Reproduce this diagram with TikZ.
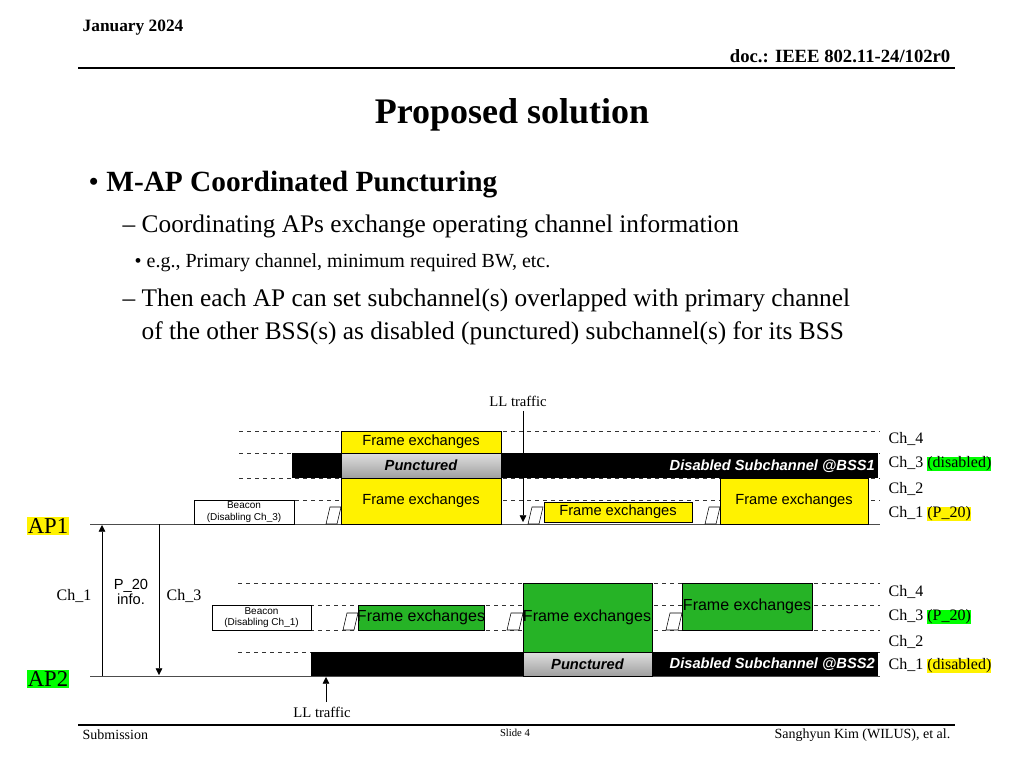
\documentclass[tikz,border=0pt]{standalone}
\usepackage{fontspec}
\setmainfont{Liberation Serif}
\setsansfont{Liberation Sans}
\usetikzlibrary{fit,arrows.meta}

\tikzset{
  slot/.style={draw, inner sep=0pt},
  fx/.style={slot, fill=yellow},
  gfx/.style={slot, fill=green!65!black!85},
  punct/.style={slot, top color=gray!25, bottom color=gray!75},
  band/.style={fill=black, inner sep=0pt},
  bcn/.style={slot, fill=white},
  txt/.style={inner sep=0pt, font=\sffamily\fontsize{11}{12}\selectfont},
  ptxt/.style={inner sep=0pt, font=\sffamily\bfseries\itshape\fontsize{11}{12}\selectfont},
  btxt/.style={inner sep=0pt, align=center, font=\sffamily\fontsize{7.5}{8.5}\selectfont},
  chan/.style={dashed, gray!40!black},
  chlab/.style={anchor=west, font=\fontsize{12}{13}\selectfont},
  hl/.style={inner sep=1pt, font=\fontsize{17}{18}\selectfont},
}
\newcommand{\backoff}[3]{\draw[fill=white] (#1,#3) -- (#1+4,#3-17) -- (#2,#3-17) -- (#2-4,#3) -- cycle;}

\begin{document}
\begin{tikzpicture}[x=0.75pt,y=-0.75pt]
\useasboundingbox (0,0) rectangle (1024,768);
% header and footer
\node[anchor=west, font=\bfseries\fontsize{13}{14}\selectfont] (month) at (78,28) {January 2024};
\node[anchor=east, font=\bfseries\fontsize{14}{15}\selectfont] (doc) at (955,56) {doc.: IEEE 802.11-24/102r0};
\draw[line width=0.8pt] (78,68) -- (955,68);
\node[font=\bfseries\fontsize{27}{30}\selectfont] (title) at (512,115) {Proposed solution};
\node[anchor=west, font=\fontsize{22}{24}\selectfont] (b1) at (84,185) {\textbullet\ \textbf{M-AP Coordinated Puncturing}};
\node[anchor=west, font=\fontsize{19}{21}\selectfont] (b2) at (118,226) {-- Coordinating APs exchange operating channel information};
\node[anchor=west, font=\fontsize{15}{17}\selectfont] (b3) at (130,263) {\textbullet\ e.g., Primary channel, minimum required BW, etc.};
\node[anchor=west, font=\fontsize{19}{21}\selectfont] (b4) at (118,300) {-- Then each AP can set subchannel(s) overlapped with primary channel};
\node[anchor=west, font=\fontsize{19}{21}\selectfont] (b5) at (137,333) {of the other BSS(s) as disabled (punctured) subchannel(s) for its BSS};
\draw[line width=0.8pt] (78,725) -- (955,725);
\node[anchor=west, font=\fontsize{10.5}{12}\selectfont] (sub) at (78,735) {Submission};
\node[font=\fontsize{8}{9}\selectfont] (slide) at (515,733) {Slide 4};
\node[anchor=east, font=\fontsize{10.5}{12}\selectfont] (auth) at (955,735) {Sanghyun Kim (WILUS), et al.};

% AP1
\foreach \y in {431,453,478,500} \draw[chan] (239,\y) -- (880,\y);
\node[band, fit={(292,453)(878,478)}] (band1) {};
\node[anchor=east, text=white, ptxt] (dis1) at (875,466) {Disabled Subchannel @BSS1};
\draw[gray!60!black] (90,524) -- (880,524);
\node[fill=yellow, hl] (ap1) at (48,526) {AP1};
\node[bcn, fit={(194,500)(294,524)}] (bcn1) {};
\node[btxt] at (bcn1) {Beacon\\(Disabling Ch\_3)};
\node[fx, fit={(341,431)(501,453)}] (fx1a) {};
\node[txt] at (fx1a) {Frame exchanges};
\node[punct, fit={(341,453)(501,478)}] (pun1) {};
\node[ptxt] at (pun1) {Punctured};
\node[fx, fit={(341,478)(501,524)}] (fx1b) {};
\node[txt] at ([yshift=-17]fx1b.north) {Frame exchanges};
\node[fx, fit={(544,502)(692,522)}] (fx1c) {};
\node[txt] at (fx1c) {Frame exchanges};
\node[fx, fit={(720,478)(868,524)}] (fx1d) {};
\node[txt] at ([yshift=-17]fx1d.north) {Frame exchanges};
\backoff{326}{341}{524}
\backoff{528}{543}{524}
\backoff{705}{720}{524}
\node[font=\fontsize{11}{12}\selectfont] (ll1) at (518,401) {LL traffic};
\coordinate (ll1end) at (523,522);
\draw[-{Triangle[length=5pt,width=5pt]}] (ll1.south -| ll1end) -- (ll1end);
\node[chlab] (c14) at (884,439) {Ch\_4};
\node[chlab] (c13) at (884,464) {Ch\_3 \hbox{\fboxsep=0pt\colorbox{green}{(disabled)}}};
\node[chlab] (c12) at (884,489) {Ch\_2};
\node[chlab] (c11) at (884,514) {Ch\_1 \hbox{\fboxsep=0pt\colorbox{yellow}{(P\_20)}}};

% AP2
\foreach \y in {583,605,630,652} \draw[chan] (238,\y) -- (880,\y);
\node[band, fit={(311,652)(878,676)}] (band2) {};
\node[anchor=east, text=white, ptxt] (dis2) at (875,664) {Disabled Subchannel @BSS2};
\draw[gray!60!black] (90,676) -- (880,676);
\node[fill=green, hl] (ap2) at (48,679) {AP2};
\node[bcn, fit={(212,605)(311,630)}] (bcn2) {};
\node[btxt] at (bcn2) {Beacon\\(Disabling Ch\_1)};
\node[gfx, fit={(358,605)(484,630)}] (fx2a) {};
\node[txt, font=\sffamily\fontsize{12}{13}\selectfont] at (fx2a) {Frame exchanges};
\node[gfx, fit={(523,583)(652,652)}] (fx2b) {};
\node[txt, font=\sffamily\fontsize{12}{13}\selectfont] at (587,617) {Frame exchanges};
\node[punct, fit={(523,652)(652,676)}] (pun2) {};
\node[ptxt] at (pun2) {Punctured};
\node[gfx, fit={(682,583)(812,630)}] (fx2c) {};
\node[txt, font=\sffamily\fontsize{12}{13}\selectfont] at (fx2c) {Frame exchanges};
\backoff{343}{358}{630}
\backoff{507}{523}{630}
\backoff{666}{682}{630}
\node[font=\fontsize{11}{12}\selectfont] (ll2) at (322,712) {LL traffic};
\coordinate (ll2end) at (326,677);
\draw[-{Triangle[length=5pt,width=5pt]}] (ll2.north -| ll2end) -- (ll2end);
\node[chlab] (c24) at (884,592) {Ch\_4};
\node[chlab] (c23) at (884,617) {Ch\_3 \hbox{\fboxsep=0pt\colorbox{green}{(P\_20)}}};
\node[chlab] (c22) at (884,642) {Ch\_2};
\node[chlab] (c21) at (884,666) {Ch\_1 \hbox{\fboxsep=0pt\colorbox{yellow}{(disabled)}}};

% P_20 exchange
\coordinate (up0) at (102,676);
\coordinate (up1) at (102,525);
\coordinate (dn0) at (159,524);
\coordinate (dn1) at (159,675);
\draw[-{Triangle[length=5pt,width=5pt]}] (up0) -- (up1);
\draw[-{Triangle[length=5pt,width=5pt]}] (dn0) -- (dn1);
\node[font=\fontsize{12}{13}\selectfont] (c2l) at (74,596) {Ch\_1};
\node[align=center, font=\sffamily\fontsize{11}{11}\selectfont] (pinfo) at (131,592) {P\_20\\info.};
\node[font=\fontsize{12}{13}\selectfont] (c2r) at (184,596) {Ch\_3};
\end{tikzpicture}
\end{document}
